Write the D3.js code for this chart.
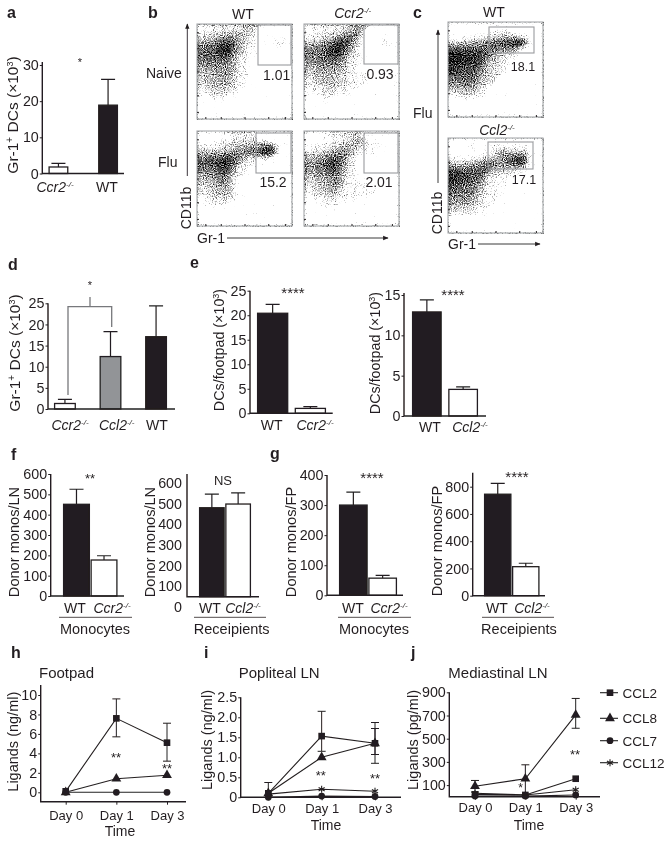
<!DOCTYPE html>
<html>
<head>
<meta charset="utf-8">
<script src="https://cdn.jsdelivr.net/npm/d3@7"></script>
<style>
  html, body { margin: 0; padding: 0; background: #fff; }
  svg { display: block; }
  text { font-family: "Liberation Sans", Arial, sans-serif; fill: #231f20; }
  .tick line { stroke: #231f20; stroke-width: 1; }
</style>
</head>
<body>
<div id="chart"></div>
<script>
// bar panels
var aCats = ['Ccr2', 'WT']
var aValues = [1.8, 18.9]
var aErrors = [2.8, 26]
var aTicks = [0, 10, 20, 30]

var dCats = ['Ccr2', 'Ccl2', 'WT']
var dValues = [1.3, 12.4, 17.1]
var dErrors = [2.3, 18.3, 24.4]
var dTicks = [0, 5, 10, 15, 20, 25]

var e1Cats = ['WT', 'Ccr2']
var e1Values = [20.4, 1.0]
var e1Errors = [22.2, 1.35]
var e1Ticks = [0, 5, 10, 15, 20, 25]

var e2Cats = ['WT', 'Ccl2']
var e2Values = [12.9, 3.3]
var e2Errors = [14.4, 3.6]
var e2Ticks = [0, 5, 10, 15]

var f1Cats = ['WT', 'Ccr2']
var f1Values = [451, 177]
var f1Errors = [525, 198]
var f1Ticks = [0, 100, 200, 300, 400, 500, 600]

var f2Cats = ['WT', 'Ccl2']
var f2Values = [480, 498]
var f2Errors = [546, 552]
var f2Ticks = [0, 100, 200, 300, 400, 500, 600]

var g1Cats = ['WT', 'Ccr2']
var g1Values = [300, 57]
var g1Errors = [343, 66]
var g1Ticks = [0, 100, 200, 300, 400]

var g2Cats = ['WT', 'Ccl2']
var g2Values = [745, 213]
var g2Errors = [825, 238]
var g2Ticks = [0, 200, 400, 600, 800]

// line panels: values per day, error caps [low, high] where they are visible
var days = ['Day 0', 'Day 1', 'Day 3']

var hCcl2 = [0.1, 7.6, 5.1]
var hCcl2Err = [null, [5.7, 9.6], [3.2, 7.1]]
var hCcl8 = [0, 1.4, 1.75]
var hCcl7 = [0, 0, 0]
var hTicks = [0, 2, 4, 6, 8, 10]

var iCcl2 = [0.1, 1.53, 1.35]
var iCcl2Err = [[0, 0.37], [1.15, 2.15], [0.85, 1.87]]
var iCcl8 = [0.1, 1.0, 1.35]
var iCcl8Err = [null, null, [1.07, 1.72]]
var iCcl7 = [0, 0.03, 0.02]
var iCcl12 = [0.08, 0.2, 0.15]
var iTicks = [0, 0.5, 1, 1.5, 2, 2.5]

var jCcl2 = [20, 15, 155]
var jCcl8 = [90, 155, 705]
var jCcl8Err = [[40, 140], [15, 275], [590, 847]]
var jCcl7 = [5, 5, 15]
var jCcl12 = [30, 15, 60]
var jTicks = [100, 300, 500, 700, 900]

var legendNames = ['CCL2', 'CCL8', 'CCL7', 'CCL12']

// flow plots: coarse darkness of the dots read by eye, 16 x 16 cells, 0 empty to 9 solid
var flowNaiveWt = [
  '0111111223100000',
  '1122233332000000',
  '2334554321000110',
  '4556885321000110',
  '5667984311000000',
  '5666763210000000',
  '4555543110000000',
  '3444443110000000',
  '2334442110000000',
  '2333432100000000',
  '1233332100000000',
  '1122221000000000',
  '0011100000000000',
  '0000000000000000',
  '0000000000000000',
  '0000000000000000'
]
var flowNaiveKo = [
  '0111111234200000',
  '0111223454000000',
  '1223356652000100',
  '3445688631000110',
  '5556897421000000',
  '5556775311000000',
  '4455554211000000',
  '3344443210000000',
  '2333332211100000',
  '1233332211100000',
  '1122322111000000',
  '0112211100000000',
  '0001100000000000',
  '0000000000000000',
  '0000000000000000',
  '0000000000000000'
]
var flowFluWt = [
  '0000011111000000',
  '0001112222110000',
  '1111223334466200',
  '2333344556799300',
  '5566776432232000',
  '6677975211000000',
  '5556763110000000',
  '3445642100000000',
  '2334531000000000',
  '2233431000000000',
  '1223331000000000',
  '0122221000000000',
  '0011100000000000',
  '0000000000000000',
  '0000000000000000',
  '0000000000000000'
]
var flowFluKo = [
  '0000111122000000',
  '0001112234110000',
  '0111223333111000',
  '1223345431111000',
  '3344665310000000',
  '4456875210000000',
  '4455764210000000',
  '3344553110000000',
  '2233453111000000',
  '1233442111110000',
  '1122331111110000',
  '0111211110000000',
  '0001110000000000',
  '0000000000000000',
  '0000000000000000',
  '0000000000000000'
]
var flowCWt = [
  '0000000000000000',
  '0000000111100000',
  '0011112233332100',
  '2333445667899300',
  '6666666655542000',
  '9998876432210000',
  '9988874321100000',
  '8877763221000000',
  '7766643221000000',
  '5666633210000000',
  '4455432100000000',
  '2333321000000000',
  '0122110000000000',
  '0000000000000000',
  '0000000000000000',
  '0000000000000000'
]
var flowCKo = [
  '0000000000000000',
  '0001100122111100',
  '0000001134333200',
  '1111223345689300',
  '3334456644566200',
  '7766666333221000',
  '8877663111100000',
  '7766542111000000',
  '6655532110000000',
  '5555421110000000',
  '4444321100000000',
  '3333211000000000',
  '1212110000000000',
  '0000000000000000',
  '0000000000000000',
  '0000000000000000'
]

var ink = '#231f20'

var root = d3
  .select('#chart')
  .append('svg')
  .attr('width', 665)
  .attr('height', 843)

var defs = root.append('defs')

// the reference is a soft scan, so everything gets a very slight blur
defs
  .append('filter')
  .attr('id', 'soften')
  .attr('filterUnits', 'userSpaceOnUse')
  .attr('x', 0)
  .attr('y', 0)
  .attr('width', 665)
  .attr('height', 843)
  .append('feGaussianBlur')
  .attr('stdDeviation', 0.3)

var svg = root.append('g').attr('filter', 'url(#soften)')

// stipple: blur the cells and add inverted noise, so grey density turns into specks
var stipple = defs
  .append('filter')
  .attr('id', 'stipple')
  .attr('x', 0)
  .attr('y', 0)
  .attr('width', 1)
  .attr('height', 1)
  .attr('color-interpolation-filters', 'sRGB')
stipple
  .append('feGaussianBlur')
  .attr('in', 'SourceGraphic')
  .attr('stdDeviation', 2.4)
  .attr('result', 'soft')
stipple
  .append('feTurbulence')
  .attr('type', 'fractalNoise')
  .attr('baseFrequency', 0.9)
  .attr('numOctaves', 1)
  .attr('seed', 4)
  .attr('result', 'turb')
stipple
  .append('feColorMatrix')
  .attr('in', 'turb')
  .attr('values', '-1 0 0 0 1  -1 0 0 0 1  -1 0 0 0 1  0 0 0 0 1')
  .attr('result', 'noise')
stipple
  .append('feComposite')
  .attr('in', 'soft')
  .attr('in2', 'noise')
  .attr('operator', 'arithmetic')
  .attr('k1', 0)
  .attr('k2', 1.6)
  .attr('k3', 2.5)
  .attr('k4', -1.2)

function superLabel(g, x, y, main, sup, opts) {
  opts = opts || {}
  var t = g
    .append('text')
    .attr('x', x)
    .attr('y', y)
    .attr('text-anchor', opts.anchor || 'middle')
    .attr('font-size', opts.size || 13.5)
  if (opts.rotate) {
    t.attr('transform', 'rotate(-90 ' + x + ' ' + y + ')')
  }
  t.append('tspan')
    .text(main)
    .attr('font-style', opts.italic ? 'italic' : 'normal')
  t.append('tspan')
    .text(sup)
    .attr('font-size', opts.supSize || 8)
    .attr('dy', -5)
    .attr('font-style', opts.italic ? 'italic' : 'normal')
  return t
}

function plainLabel(g, x, y, str, opts) {
  opts = opts || {}
  var t = g
    .append('text')
    .text(str)
    .attr('x', x)
    .attr('y', y)
    .attr('text-anchor', opts.anchor || 'middle')
    .attr('font-size', opts.size || 13.5)
  if (opts.rotate) {
    t.attr('transform', 'rotate(-90 ' + x + ' ' + y + ')')
  }
  if (opts.weight) {
    t.attr('font-weight', opts.weight)
  }
  return t
}

function gr1Label(x, y) {
  var t = superLabel(svg, x, y, 'Gr-1', '+', { rotate: true, size: 15.5, supSize: 10 })
  t.append('tspan').text(' DCs (\u00d710').attr('dy', 5)
  t.append('tspan')
    .text('3')
    .attr('font-size', 9)
    .attr('dy', -5)
  t.append('tspan').text(')').attr('dy', 5)
}

function footpadLabel(x, y) {
  var t = plainLabel(svg, x, y, 'DCs/footpad (\u00d710', { rotate: true, size: 14.3 })
  t.append('tspan')
    .text('3')
    .attr('font-size', 9)
    .attr('dy', -5)
  t.append('tspan').text(')').attr('dy', 5)
}

function catLabel(x, y, name) {
  if (name === 'WT') {
    plainLabel(svg, x, y, name, { size: 14 })
  } else {
    superLabel(svg, x, y, name, '-/-', { italic: true, size: 14 })
  }
}

var fills = { Ccr2: '#fff', Ccl2: '#fff', WT: ink }

function barPanel(p) {
  var yScale = d3
    .scaleLinear()
    .domain([p.ticks[0], p.ticks[p.ticks.length - 1]])
    .range([p.y0, p.yMax])
  var xScale = d3
    .scaleBand()
    .domain(p.cats)
    .range([p.barFrom, p.barTo])
    .paddingInner(p.pad)

  var g = svg.append('g')
  var baseY = p.baseY || p.y0

  // error whisker behind the bar
  g.selectAll('.whisker')
    .data(p.cats)
    .enter()
    .append('path')
    .attr('d', function(d, i) {
      var cx = xScale(d) + xScale.bandwidth() / 2
      return (
        'M' + cx + ',' + yScale(p.values[i]) +
        'V' + yScale(p.errors[i]) +
        'M' + (cx - 7) + ',' + yScale(p.errors[i]) +
        'H' + (cx + 7)
      )
    })
    .attr('stroke', ink)
    .attr('stroke-width', 1.2)
    .attr('fill', 'none')

  g.selectAll('.bar')
    .data(p.cats)
    .enter()
    .append('rect')
    .attr('x', function(d) {
      return xScale(d) + 0.6
    })
    .attr('width', xScale.bandwidth() - 1.2)
    .attr('y', function(d, i) {
      return yScale(p.values[i])
    })
    .attr('height', function(d, i) {
      return baseY - yScale(p.values[i])
    })
    .attr('fill', function(d) {
      return p.fills ? p.fills[p.cats.indexOf(d)] : fills[d]
    })
    .attr('stroke', ink)
    .attr('stroke-width', 1.3)

  var yAxis = d3
    .axisLeft(yScale)
    .tickValues(p.ticks)
    .tickSize(p.noTicks ? 0 : 2.5)
    .tickPadding(p.noTicks ? 5 : 1)
    .tickFormat(d3.format('d'))
  var axisG = g
    .append('g')
    .attr('transform', 'translate(' + p.x + ',0)')
    .call(yAxis)
  axisG.select('.domain').remove()
  axisG.selectAll('text').attr('font-size', 14.3).attr('fill', ink)

  g.append('path')
    .attr('d', 'M' + p.x + ',' + (p.axisTop || p.yMax) + 'V' + baseY + 'H' + p.right)
    .attr('stroke', ink)
    .attr('stroke-width', 1.4)
    .attr('fill', 'none')

  p.cats.forEach(function(c, i) {
    catLabel(p.labelX[i], p.labelY, c)
  })
}

barPanel({
  cats: aCats, values: aValues, errors: aErrors, ticks: aTicks,
  x: 42.3, right: 124, y0: 173.5, yMax: 65, axisTop: 62,
  barFrom: 48.5, barTo: 118, pad: 0.6, labelX: [55, 107], labelY: 192
})
barPanel({
  cats: dCats, values: dValues, errors: dErrors, ticks: dTicks,
  fills: ['#fff', '#929497', ink],
  x: 48, right: 175, y0: 409, yMax: 303.3,
  barFrom: 54, barTo: 167, pad: 0.52, labelX: [70, 116.7, 157], labelY: 430
})
barPanel({
  cats: e1Cats, values: e1Values, errors: e1Errors, ticks: e1Ticks,
  x: 250, right: 332.7, y0: 413.3, yMax: 290.7,
  barFrom: 257, barTo: 326, pad: 0.17, labelX: [271.7, 315], labelY: 430
})
barPanel({
  cats: e2Cats, values: e2Values, errors: e2Errors, ticks: e2Ticks,
  x: 404, right: 486, y0: 416, yMax: 295, axisTop: 293,
  barFrom: 412, barTo: 478, pad: 0.18, labelX: [430, 470], labelY: 431.5
})
barPanel({
  cats: f1Cats, values: f1Values, errors: f1Errors, ticks: f1Ticks,
  x: 50.7, right: 124, y0: 596, yMax: 474,
  barFrom: 63, barTo: 117.5, pad: 0.02, labelX: [75, 112], labelY: 612.5
})
barPanel({
  cats: f2Cats, values: f2Values, errors: f2Errors, ticks: f2Ticks,
  x: 187, right: 259, y0: 606.7, yMax: 483, baseY: 596.7, axisTop: 474, noTicks: true,
  barFrom: 199, barTo: 251, pad: 0.02, labelX: [210, 243], labelY: 612.5
})
barPanel({
  cats: g1Cats, values: g1Values, errors: g1Errors, ticks: g1Ticks,
  x: 327, right: 403, y0: 595.3, yMax: 475,
  barFrom: 339, barTo: 397, pad: 0.02, labelX: [353, 389], labelY: 612.5
})
barPanel({
  cats: g2Cats, values: g2Values, errors: g2Errors, ticks: g2Ticks,
  x: 472.7, right: 545, y0: 595.7, yMax: 486.7, axisTop: 472.7,
  barFrom: 484, barTo: 539.5, pad: 0.02, labelX: [497, 532], labelY: 612.5
})

gr1Label(18, 115)
gr1Label(20, 353)
footpadLabel(224, 350)
footpadLabel(380, 353)
plainLabel(svg, 19, 542, 'Donor monos/LN', { rotate: true, size: 14.6 })
plainLabel(svg, 155, 542, 'Donor monos/LN', { rotate: true, size: 14.6 })
plainLabel(svg, 296, 542, 'Donor monos/FP', { rotate: true, size: 14.6 })
plainLabel(svg, 441.7, 541, 'Donor monos/FP', { rotate: true, size: 14.6 })

// bracket in d
svg
  .append('path')
  .attr('d', 'M68,395V306.7H111.7V327M90,306.7V297')
  .attr('stroke', '#77787b')
  .attr('stroke-width', 1.3)
  .attr('fill', 'none')

// rules under the category labels in f and g
var ruleSpans = [[59, 132, 95, 'Monocytes'], [194, 266, 231.7, 'Receipients'], [338, 411, 374, 'Monocytes'], [482, 554, 519, 'Receipients']]
ruleSpans.forEach(function(r) {
  svg
    .append('line')
    .attr('x1', r[0])
    .attr('x2', r[1])
    .attr('y1', 617.3)
    .attr('y2', 617.3)
    .attr('stroke', ink)
    .attr('stroke-width', 0.8)
  plainLabel(svg, r[2], 634, r[3], { size: 14.5 })
})

// significance marks, positioned by the centre of the glyph
var marks = [
  [80, 61, '*', 11], [90, 284.5, '*', 11], [293, 291.7, '****', 15], [453, 293, '****', 15],
  [90, 477.5, '**', 13], [372, 476.7, '****', 15], [517, 475.7, '****', 15],
  [116, 756, '**', 13], [167, 767, '**', 13], [320.7, 774, '**', 13], [375, 776.7, '**', 13],
  [520.7, 787, '*', 12], [575, 752.7, '**', 13]
]
marks.forEach(function(m) {
  plainLabel(svg, m[0], m[1] + m[3] * 0.45, m[2], { size: m[3] })
})
plainLabel(svg, 223, 485, 'NS', { size: 13 })

// panel letters
var letters = [
  ['a', 7, 18], ['b', 148, 18], ['c', 413, 18], ['d', 8, 270], ['e', 190, 268],
  ['f', 11, 460], ['g', 270, 459], ['h', 11, 658], ['i', 204, 658], ['j', 411, 658]
]
letters.forEach(function(l) {
  plainLabel(svg, l[1], l[2], l[0], { anchor: 'start', size: 16, weight: 'bold' })
})

// flow cytometry plots
var cellIndex = d3.range(16)
// pow scale so that the thin outer dots still show after the noise step
var shade = d3
  .scalePow()
  .exponent(0.55)
  .domain([0, 9])
  .range(['#ffffff', '#000000'])

function flowPlot(p) {
  var xScale = d3
    .scaleBand()
    .domain(cellIndex)
    .range([p.x, p.x + p.size])
  var yScale = d3
    .scaleBand()
    .domain(cellIndex)
    .range([p.y, p.y + p.size])

  var cells = svg.append('g').attr('filter', 'url(#stipple)')
  p.grid.forEach(function(row, r) {
    cells
      .selectAll('.row' + r)
      .data(row.split(''))
      .enter()
      .append('rect')
      .attr('x', function(d, i) {
        return xScale(i)
      })
      .attr('y', yScale(r))
      .attr('width', xScale.bandwidth() + 0.5)
      .attr('height', yScale.bandwidth() + 0.5)
      .attr('fill', function(d) {
        return shade(+d)
      })
  })

  svg
    .append('rect')
    .attr('x', p.x)
    .attr('y', p.y)
    .attr('width', p.size)
    .attr('height', p.size)
    .attr('fill', 'none')
    .attr('stroke', '#a7a9ac')
    .attr('stroke-width', 1.1)

  svg
    .append('rect')
    .attr('x', p.gate[0])
    .attr('y', p.gate[1])
    .attr('width', p.gate[2])
    .attr('height', p.gate[3])
    .attr('fill', 'none')
    .attr('stroke', '#9a9b9e')
    .attr('stroke-width', 1.1)

  // log ticks on the frame
  var tickScale = d3.scaleLinear().domain([0, 4]).range([0, p.size])
  var tickVals = [0.35, 1, 2, 3, 3.7]
  var bottomTicks = svg
    .append('g')
    .attr('transform', 'translate(' + p.x + ',' + (p.y + p.size) + ')')
    .call(d3.axisTop(tickScale).tickValues(tickVals).tickSize(2).tickFormat(''))
  bottomTicks.select('.domain').remove()
  bottomTicks.selectAll('line').attr('stroke', '#555').attr('stroke-width', 0.7)
  var leftTicks = svg
    .append('g')
    .attr('transform', 'translate(' + p.x + ',' + p.y + ')')
    .call(d3.axisRight(tickScale).tickValues(tickVals).tickSize(2).tickFormat(''))
  leftTicks.select('.domain').remove()
  leftTicks.selectAll('line').attr('stroke', '#555').attr('stroke-width', 0.7)

  plainLabel(svg, p.labelX, p.labelY, p.label, { size: p.labelSize || 14 })
}

flowPlot({ grid: flowNaiveWt, x: 197, y: 24, size: 95, gate: [258, 25, 33, 40], label: '1.01', labelX: 276.7, labelY: 80 })
flowPlot({ grid: flowNaiveKo, x: 304, y: 24, size: 95, gate: [364, 25, 34, 39], label: '0.93', labelX: 380, labelY: 79 })
flowPlot({ grid: flowFluWt, x: 197, y: 131, size: 95, gate: [256, 133, 35, 40], label: '15.2', labelX: 273, labelY: 187 })
flowPlot({ grid: flowFluKo, x: 304, y: 131, size: 95, gate: [364, 133, 34, 40], label: '2.01', labelX: 379, labelY: 187 })
flowPlot({ grid: flowCWt, x: 448, y: 22, size: 95, gate: [489, 27, 45, 26], label: '18.1', labelX: 523, labelY: 71, labelSize: 12.5 })
flowPlot({ grid: flowCKo, x: 448, y: 138, size: 95, gate: [488, 142, 45, 27], label: '17.1', labelX: 524, labelY: 184, labelSize: 12.5 })

defs
  .append('marker')
  .attr('id', 'arrow')
  .attr('viewBox', '0 0 10 10')
  .attr('refX', 9)
  .attr('refY', 5)
  .attr('markerWidth', 6)
  .attr('markerHeight', 6)
  .attr('orient', 'auto')
  .append('path')
  .attr('d', 'M0,1L10,5L0,9Z')
  .attr('fill', ink)

function arrowLine(x1, y1, x2, y2) {
  svg
    .append('line')
    .attr('x1', x1)
    .attr('y1', y1)
    .attr('x2', x2)
    .attr('y2', y2)
    .attr('stroke', ink)
    .attr('stroke-width', 0.9)
    .attr('marker-end', 'url(#arrow)')
}

arrowLine(187.3, 176, 187.3, 24)
arrowLine(227, 238, 388, 238)
arrowLine(438, 183, 438, 30)
arrowLine(478, 244, 540, 244)

plainLabel(svg, 191, 208, 'CD11b', { rotate: true, size: 14 })
plainLabel(svg, 442, 213, 'CD11b', { rotate: true, size: 14 })
plainLabel(svg, 197, 243, 'Gr-1', { anchor: 'start', size: 14 })
plainLabel(svg, 448, 249, 'Gr-1', { anchor: 'start', size: 14 })
plainLabel(svg, 243, 19, 'WT', { size: 14 })
superLabel(svg, 352.7, 18, 'Ccr2', '-/-', { italic: true, size: 14 })
plainLabel(svg, 494, 17, 'WT', { size: 14 })
superLabel(svg, 497, 135, 'Ccl2', '-/-', { italic: true, size: 14 })
plainLabel(svg, 146, 78, 'Naive', { anchor: 'start', size: 14 })
plainLabel(svg, 158, 167, 'Flu', { anchor: 'start', size: 14 })
plainLabel(svg, 413, 118, 'Flu', { anchor: 'start', size: 14 })

// line panels
var symbolFor = {
  CCL2: d3.symbol().type(d3.symbolSquare).size(44),
  CCL8: d3.symbol().type(d3.symbolTriangle).size(42),
  CCL7: d3.symbol().type(d3.symbolCircle).size(36),
  CCL12: d3.symbol().type(d3.symbolAsterisk).size(34)
}

function drawMarker(g, name, x, y) {
  g.append('path')
    .attr('d', symbolFor[name]())
    .attr('transform', 'translate(' + x + ',' + y + ')')
    .attr('fill', name === 'CCL12' ? 'none' : ink)
    .attr('stroke', name === 'CCL12' ? ink : 'none')
    .attr('stroke-width', 1.1)
}

function linePanel(p) {
  var xScale = d3
    .scalePoint()
    .domain(days)
    .range(p.xRange)
  var yScale = d3
    .scaleLinear()
    .domain(p.domain)
    .range(p.yRange)
  var g = svg.append('g')
  var line = d3
    .line()
    .x(function(d, i) {
      return xScale(days[i])
    })
    .y(function(d) {
      return yScale(d)
    })

  p.series.forEach(function(s) {
    g.append('path')
      .attr('d', line(s.values))
      .attr('fill', 'none')
      .attr('stroke', ink)
      .attr('stroke-width', 1.1)
    if (s.errors) {
      s.errors.forEach(function(e, i) {
        if (!e) return
        var cx = xScale(days[i])
        g.append('path')
          .attr('d',
            'M' + cx + ',' + yScale(e[0]) + 'V' + yScale(e[1]) +
            'M' + (cx - 4) + ',' + yScale(e[0]) + 'H' + (cx + 4) +
            'M' + (cx - 4) + ',' + yScale(e[1]) + 'H' + (cx + 4))
          .attr('stroke', ink)
          .attr('stroke-width', 1)
          .attr('fill', 'none')
      })
    }
    s.values.forEach(function(v, i) {
      drawMarker(g, s.name, xScale(days[i]), yScale(v))
    })
  })

  var yAxis = d3
    .axisLeft(yScale)
    .tickValues(p.ticks)
    .tickSize(2.5)
    .tickPadding(1)
    .tickFormat(p.format)
  var yG = g
    .append('g')
    .attr('transform', 'translate(' + p.axisX + ',0)')
    .call(yAxis)
  yG.select('.domain').remove()
  yG.selectAll('text').attr('font-size', 14.3).attr('fill', ink)

  var xAxis = d3
    .axisBottom(xScale)
    .tickSize(3)
    .tickPadding(p.xPad)
  var xG = g
    .append('g')
    .attr('transform', 'translate(0,' + p.axisY + ')')
    .call(xAxis)
  xG.select('.domain').remove()
  xG.selectAll('text').attr('font-size', 13).attr('fill', ink)

  g.append('path')
    .attr('d', 'M' + p.axisX + ',' + p.axisTop + 'V' + p.axisY + 'H' + p.right)
    .attr('stroke', ink)
    .attr('stroke-width', 1.4)
    .attr('fill', 'none')

  plainLabel(svg, p.axisLabelX, p.axisLabelY, p.axisLabel, { rotate: true, size: 14.5 })
  plainLabel(svg, p.titleX, 677.5, p.title, { anchor: 'start', size: 15 })
  plainLabel(svg, p.timeX, p.timeY, 'Time', { size: 14 })
}

linePanel({
  title: 'Footpad', titleX: 39,
  axisLabel: 'Ligands (ng/ml)', axisLabelX: 18, axisLabelY: 741.7,
  xRange: [65.7, 167], domain: [0, 10], yRange: [792.3, 695],
  ticks: hTicks, format: d3.format('d'),
  axisX: 40.7, axisY: 801.7, axisTop: 685, right: 186, xPad: 6,
  timeX: 120, timeY: 836,
  series: [
    { name: 'CCL7', values: hCcl7 },
    { name: 'CCL8', values: hCcl8 },
    { name: 'CCL2', values: hCcl2, errors: hCcl2Err }
  ]
})
linePanel({
  title: 'Popliteal LN', titleX: 238.7,
  axisLabel: 'Ligands (ng/ml)', axisLabelX: 211.7, axisLabelY: 740,
  xRange: [268.3, 375], domain: [0, 2.5], yRange: [797.3, 697.3],
  ticks: iTicks, format: function(d) { return d === 0 ? '0' : d3.format('.1f')(d) },
  axisX: 240.7, axisY: 797.3, axisTop: 697.3, right: 401, xPad: 3,
  timeX: 326, timeY: 830,
  series: [
    { name: 'CCL7', values: iCcl7 },
    { name: 'CCL12', values: iCcl12 },
    { name: 'CCL8', values: iCcl8, errors: iCcl8Err },
    { name: 'CCL2', values: iCcl2, errors: iCcl2Err }
  ]
})
linePanel({
  title: 'Mediastinal LN', titleX: 448.3,
  axisLabel: 'Ligands (pg/ml)', axisLabelX: 418, axisLabelY: 740,
  xRange: [475, 575.7], domain: [0, 900], yRange: [796.7, 692.3],
  ticks: jTicks, format: d3.format('d'),
  axisX: 449.3, axisY: 796.7, axisTop: 692.3, right: 600, xPad: 3,
  timeX: 529, timeY: 830,
  series: [
    { name: 'CCL7', values: jCcl7 },
    { name: 'CCL12', values: jCcl12 },
    { name: 'CCL2', values: jCcl2 },
    { name: 'CCL8', values: jCcl8, errors: jCcl8Err }
  ]
})

// legend
var legendY = d3
  .scaleOrdinal()
  .domain(legendNames)
  .range([692.7, 718.3, 740.7, 762.7])
legendNames.forEach(function(name) {
  var y = legendY(name)
  svg
    .append('line')
    .attr('x1', 600)
    .attr('x2', 618)
    .attr('y1', y)
    .attr('y2', y)
    .attr('stroke', ink)
    .attr('stroke-width', 1.1)
  drawMarker(svg, name, 610, y)
  plainLabel(svg, 622.5, y + 5, name, { anchor: 'start', size: 13.5 })
})
</script>
</body>
</html>
